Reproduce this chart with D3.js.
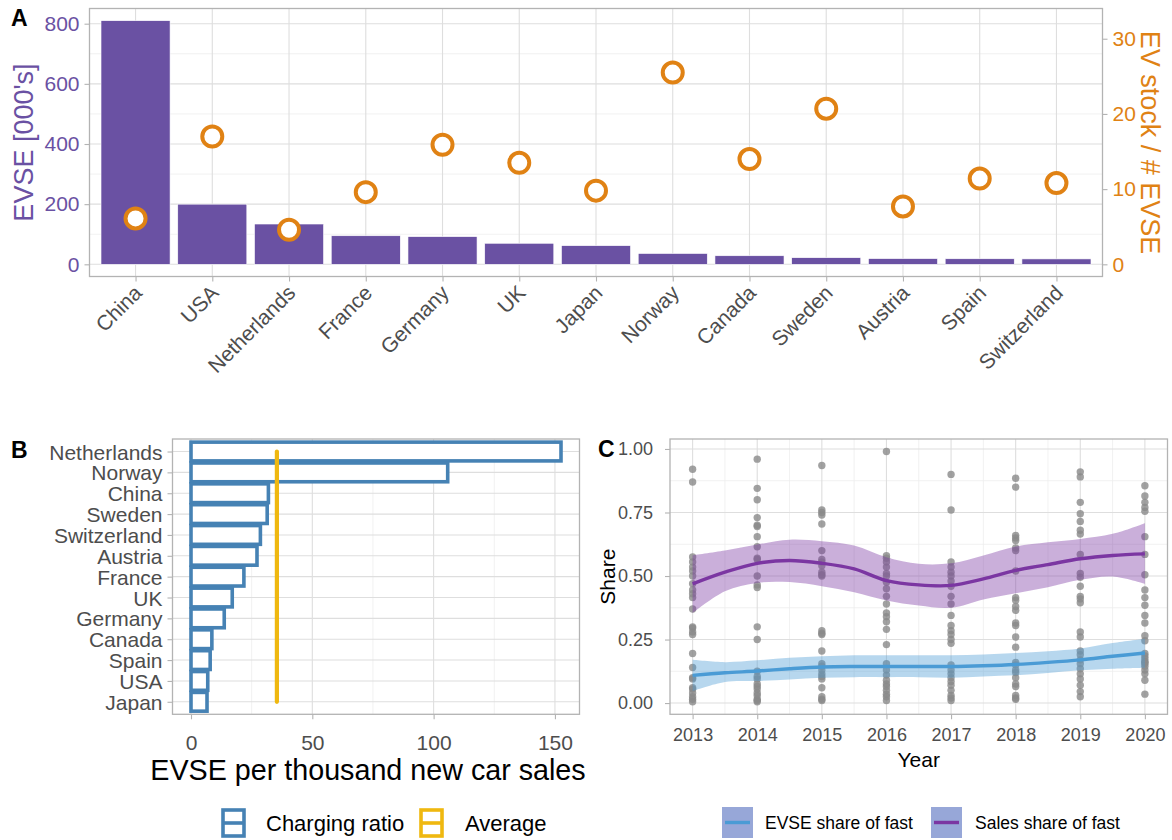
<!DOCTYPE html>
<html>
<head>
<meta charset="utf-8">
<script src="https://cdn.jsdelivr.net/npm/d3@7"></script>
<style>
  html, body { margin: 0; padding: 0; background: #ffffff; }
  svg { display: block; font-family: "Liberation Sans", Arial, Helvetica, sans-serif; }
</style>
</head>
<body>
<svg id="chart" width="1172" height="840"></svg>
<script>
// ---- Panel A: chargers (thousands) and EVs per charger ----
const countriesA = ["China", "USA", "Netherlands", "France", "Germany", "UK", "Japan",
                    "Norway", "Canada", "Sweden", "Austria", "Spain", "Switzerland"];
const evseThousands = [810, 200, 134, 95, 92, 70, 62, 36, 28.5, 22, 19, 18.5, 18];
const evPerCharger = [6.1, 17.0, 4.6, 9.6, 15.9, 13.5, 9.8, 25.5, 14.0, 20.7, 7.7, 11.4, 10.8];
const leftTicksA = [0, 200, 400, 600, 800];
const rightTicksA = [0, 10, 20, 30];
const secAxisFactor = 25;

// ---- Panel B: chargers per thousand new car sales ----
const countriesB = ["Netherlands", "Norway", "China", "Sweden", "Switzerland", "Austria",
                    "France", "UK", "Germany", "Canada", "Spain", "USA", "Japan"];
const chargingRatio = [152.5, 105.8, 31.9, 31.4, 28.6, 27.2, 21.8, 17.0, 13.7, 8.6, 7.9, 6.9, 6.6];
const averageRatio = 35.4;
const ticksB = [0, 50, 100, 150];

// ---- Panel C: share of fast chargers / fast-charging car sales ----
const years = [2013, 2014, 2015, 2016, 2017, 2018, 2019, 2020];
const shares2013 = [0.92, 0.87, 0.575, 0.555, 0.535, 0.52, 0.50, 0.47, 0.445, 0.43, 0.415, 0.37, 0.30,
                    0.295, 0.28, 0.27, 0.195, 0.14, 0.10, 0.095, 0.06, 0.055, 0.04, 0.025, 0.015, 0.005];
const shares2014 = [0.96, 0.845, 0.80, 0.73, 0.70, 0.695, 0.655, 0.615, 0.57, 0.565, 0.50, 0.465, 0.455,
                    0.30, 0.25, 0.125, 0.105, 0.095, 0.075, 0.065, 0.055, 0.04, 0.03, 0.015, 0.01, 0.005];
const shares2015 = [0.935, 0.76, 0.75, 0.74, 0.705, 0.60, 0.565, 0.555, 0.54, 0.515, 0.505, 0.50, 0.285,
                    0.275, 0.27, 0.205, 0.155, 0.145, 0.13, 0.115, 0.105, 0.095, 0.06, 0.025, 0.015, 0.01];
const shares2016 = [0.99, 0.58, 0.57, 0.555, 0.535, 0.51, 0.50, 0.475, 0.45, 0.42, 0.39, 0.355, 0.34,
                    0.32, 0.29, 0.23, 0.155, 0.13, 0.11, 0.09, 0.075, 0.065, 0.05, 0.035, 0.025, 0.01];
const shares2017 = [0.90, 0.76, 0.555, 0.535, 0.515, 0.50, 0.48, 0.46, 0.42, 0.39, 0.345, 0.305, 0.285,
                    0.27, 0.25, 0.235, 0.15, 0.13, 0.115, 0.10, 0.085, 0.07, 0.05, 0.03, 0.02, 0.01];
const shares2018 = [0.885, 0.85, 0.66, 0.65, 0.64, 0.61, 0.60, 0.52, 0.415, 0.405, 0.38, 0.365, 0.315,
                    0.305, 0.26, 0.22, 0.16, 0.15, 0.13, 0.12, 0.10, 0.075, 0.065, 0.03, 0.02, 0.015];
const shares2019 = [0.91, 0.89, 0.79, 0.745, 0.715, 0.68, 0.665, 0.585, 0.51, 0.495, 0.46, 0.42, 0.41,
                    0.395, 0.28, 0.26, 0.205, 0.19, 0.17, 0.155, 0.135, 0.115, 0.095, 0.07, 0.045, 0.025];
const shares2020 = [0.855, 0.815, 0.79, 0.77, 0.755, 0.655, 0.585, 0.505, 0.445, 0.415, 0.385, 0.345, 0.315,
                    0.265, 0.245, 0.195, 0.185, 0.175, 0.165, 0.16, 0.155, 0.145, 0.13, 0.115, 0.09, 0.035];
const sharesByYear = [shares2013, shares2014, shares2015, shares2016, shares2017, shares2018, shares2019, shares2020];

// smoothed trends with confidence band, sampled every half year
const fitYears = [2013, 2013.5, 2014, 2014.5, 2015, 2015.5, 2016, 2016.5, 2017, 2017.5, 2018, 2018.5, 2019, 2019.5, 2020];
const salesFit = [0.469, 0.515, 0.550, 0.561, 0.550, 0.528, 0.482, 0.465, 0.463, 0.489, 0.522, 0.545, 0.568, 0.581, 0.587];
const salesLow = [0.354, 0.440, 0.473, 0.476, 0.460, 0.436, 0.404, 0.384, 0.375, 0.408, 0.432, 0.456, 0.485, 0.498, 0.469];
const salesHigh = [0.581, 0.600, 0.624, 0.643, 0.637, 0.620, 0.574, 0.548, 0.550, 0.581, 0.616, 0.633, 0.646, 0.666, 0.708];
const evseFit = [0.109, 0.119, 0.126, 0.135, 0.142, 0.144, 0.144, 0.144, 0.144, 0.147, 0.152, 0.160, 0.170, 0.184, 0.197];
const evseLow = [0.047, 0.083, 0.087, 0.093, 0.100, 0.102, 0.102, 0.102, 0.100, 0.105, 0.109, 0.118, 0.129, 0.135, 0.139];
const evseHigh = [0.170, 0.161, 0.168, 0.178, 0.184, 0.188, 0.188, 0.188, 0.188, 0.191, 0.197, 0.204, 0.215, 0.236, 0.253];
const ticksCy = [0, 0.25, 0.5, 0.75, 1];

// ---- styling ----
const purpleBar = "#6a51a3";
const orange = "#e08214";
const steel = "#4682b4";
const gold = "#efb810";
const salesColor = "#7b36a2";
const evseColor = "#4a9bd5";
const gridMajor = "#dedede";
const gridMinor = "#eeeeee";
const borderCol = "#b3b3b3";
const tickText = "#4d4d4d";

const svg = d3.select("#chart");

function panelFrame(g, x0, x1, y0, y1) {
  g.append("rect").attr("x", x0).attr("y", y0).attr("width", x1 - x0).attr("height", y1 - y0)
    .attr("fill", "none").attr("stroke", borderCol).attr("stroke-width", 1.3);
}
function hLines(g, ys, x0, x1, col, w) {
  g.selectAll(null).data(ys).enter().append("line")
    .attr("x1", x0).attr("x2", x1).attr("y1", d => d).attr("y2", d => d)
    .attr("stroke", col).attr("stroke-width", w);
}
function vLines(g, xs, y0, y1, col, w) {
  g.selectAll(null).data(xs).enter().append("line")
    .attr("y1", y0).attr("y2", y1).attr("x1", d => d).attr("x2", d => d)
    .attr("stroke", col).attr("stroke-width", w);
}
function styleAxis(axisG, color, size) {
  axisG.select(".domain").remove();
  axisG.selectAll(".tick line").attr("stroke", borderCol).attr("stroke-width", 1.1);
  axisG.selectAll(".tick text").attr("fill", color).style("font-size", size + "px")
    .style("font-family", "Liberation Sans, Arial, sans-serif");
}

// ================= Panel A =================
(function () {
  const L = 89.5, R = 1102.5, T = 8.5, B = 276.5;
  const g = svg.append("g");
  const x = d3.scalePoint().domain(countriesA).range([L, R]).padding(0.6);
  const step = x.step();
  const maxV = d3.max(evseThousands);
  const y = d3.scaleLinear().domain([-0.05 * maxV, 1.05 * maxV]).range([B, T]);
  const y2 = d3.scaleLinear().domain(y.domain().map(v => v / secAxisFactor)).range([B, T]);

  hLines(g, [100, 300, 500, 700].map(y), L, R, gridMinor, 0.8);
  hLines(g, leftTicksA.map(y), L, R, gridMajor, 1.1);
  vLines(g, countriesA.map(x), T, B, gridMajor, 1.1);

  g.selectAll(".bar").data(countriesA).enter().append("rect")
    .attr("x", d => x(d) - step * 0.45)
    .attr("width", step * 0.9)
    .attr("y", (d, i) => y(evseThousands[i]))
    .attr("height", (d, i) => y(0) - y(evseThousands[i]))
    .attr("fill", purpleBar).attr("stroke", "#ffffff").attr("stroke-width", 0.6);

  g.selectAll(".pt").data(countriesA).enter().append("circle")
    .attr("cx", d => x(d))
    .attr("cy", (d, i) => y(evPerCharger[i] * secAxisFactor))
    .attr("r", 10)
    .attr("fill", "#ffffff").attr("stroke", orange).attr("stroke-width", 4);

  panelFrame(g, L, R, T, B);

  const ax = g.append("g").attr("transform", `translate(${L},0)`)
    .call(d3.axisLeft(y).tickValues(leftTicksA).tickSize(5).tickPadding(5));
  styleAxis(ax, purpleBar, 21);

  const ax2 = g.append("g").attr("transform", `translate(${R},0)`)
    .call(d3.axisRight(y2).tickValues(rightTicksA).tickSize(5).tickPadding(5));
  styleAxis(ax2, orange, 21);

  const axb = g.append("g").attr("transform", `translate(0,${B})`)
    .call(d3.axisBottom(x).tickSize(5).tickFormat(""));
  styleAxis(axb, tickText, 19);

  g.selectAll(".xlab").data(countriesA).enter().append("text")
    .attr("transform", d => `translate(${x(d) - 3},${B + 7}) rotate(-45)`)
    .attr("text-anchor", "end").attr("dy", "0.72em")
    .attr("fill", tickText).style("font-size", "21px")
    .text(d => d);

  g.append("text").attr("transform", `translate(33,${(T + B) / 2}) rotate(-90)`)
    .attr("text-anchor", "middle").attr("fill", purpleBar).style("font-size", "27px")
    .text("EVSE [000's]");
  g.append("text").attr("transform", `translate(1141,${(T + B) / 2}) rotate(90)`)
    .attr("text-anchor", "middle").attr("fill", orange).style("font-size", "27px")
    .text("EV stock / # EVSE");

  svg.append("text").attr("x", 11).attr("y", 26).style("font-size", "23px")
    .style("font-weight", "bold").attr("fill", "#000").text("A");
})();

// ================= Panel B =================
(function () {
  const L = 172.5, R = 579.5, T = 439, B = 714.3;
  const g = svg.append("g");
  const maxV = d3.max(chargingRatio);
  const x = d3.scaleLinear().domain([-0.05 * maxV, 1.05 * maxV]).range([L, R]);
  const y = d3.scalePoint().domain(countriesB).range([T, B]).padding(0.6);
  const step = y.step();

  vLines(g, [25, 75, 125].map(x), T, B, gridMinor, 0.8);
  vLines(g, ticksB.map(x), T, B, gridMajor, 1.1);
  hLines(g, countriesB.map(y), L, R, gridMajor, 1.1);

  g.selectAll(".bar").data(countriesB).enter().append("rect")
    .attr("x", x(0))
    .attr("y", d => y(d) - step * 0.45)
    .attr("width", (d, i) => x(chargingRatio[i]) - x(0))
    .attr("height", step * 0.9)
    .attr("fill", "#ffffff").attr("stroke", steel).attr("stroke-width", 3.6);

  g.append("line")
    .attr("x1", x(averageRatio)).attr("x2", x(averageRatio))
    .attr("y1", y(countriesB[0])).attr("y2", y(countriesB[countriesB.length - 1]))
    .attr("stroke", gold).attr("stroke-width", 4.2).attr("stroke-linecap", "round");

  panelFrame(g, L, R, T, B);

  const ay = g.append("g").attr("transform", `translate(${L},0)`)
    .call(d3.axisLeft(y).tickSize(5).tickPadding(5));
  styleAxis(ay, tickText, 21);
  ay.selectAll(".tick text").attr("dy", "0.36em");

  const axb = g.append("g").attr("transform", `translate(0,${B})`)
    .call(d3.axisBottom(x).tickValues(ticksB).tickSize(5).tickPadding(16));
  styleAxis(axb, tickText, 21);

  g.append("text").attr("x", 368).attr("y", 780).attr("text-anchor", "middle")
    .attr("fill", "#000").style("font-size", "28.7px").text("EVSE per thousand new car sales");

  svg.append("text").attr("x", 11).attr("y", 458).style("font-size", "23px")
    .style("font-weight", "bold").attr("fill", "#000").text("B");

  // legend
  const lg = svg.append("g");
  const keys = [{ label: "Charging ratio", col: steel, kx: 223, tx: 266 },
                { label: "Average", col: gold, kx: 421, tx: 465 }];
  keys.forEach(k => {
    lg.append("rect").attr("x", k.kx).attr("y", 810).attr("width", 21).attr("height", 26)
      .attr("fill", "#fff").attr("stroke", k.col).attr("stroke-width", 3.6);
    lg.append("line").attr("x1", k.kx).attr("x2", k.kx + 21).attr("y1", 823).attr("y2", 823)
      .attr("stroke", k.col).attr("stroke-width", 3.6);
    lg.append("text").attr("x", k.tx).attr("y", 831).style("font-size", "22px")
      .attr("fill", "#000").text(k.label);
  });
})();

// ================= Panel C =================
(function () {
  const L = 670, R = 1167.5, T = 439, B = 714.3;
  const g = svg.append("g");
  const xr = d3.extent(years), xs = xr[1] - xr[0];
  const x = d3.scaleLinear().domain([xr[0] - 0.05 * xs, xr[1] + 0.05 * xs]).range([L, R]);
  const all = sharesByYear.flat();
  const yr = d3.extent(all), ys = yr[1] - yr[0];
  const y = d3.scaleLinear().domain([yr[0] - 0.05 * ys, yr[1] + 0.05 * ys]).range([B, T]);

  vLines(g, years.slice(0, -1).map(d => x(d + 0.5)), T, B, gridMinor, 0.8);
  hLines(g, [0.125, 0.375, 0.625, 0.875].map(y), L, R, gridMinor, 0.8);
  vLines(g, years.map(x), T, B, gridMajor, 1.1);
  hLines(g, ticksCy.map(y), L, R, gridMajor, 1.1);

  const pts = [];
  years.forEach((yrv, i) => sharesByYear[i].forEach(v => pts.push([yrv, v])));
  g.selectAll(".pt").data(pts).enter().append("circle")
    .attr("cx", d => x(d[0])).attr("cy", d => y(d[1])).attr("r", 3.7)
    .attr("fill", "#8a8a8a").attr("fill-opacity", 0.8);

  const series = [
    { fit: evseFit, lo: evseLow, hi: evseHigh, col: evseColor },
    { fit: salesFit, lo: salesLow, hi: salesHigh, col: salesColor }
  ];
  const curve = d3.curveCatmullRom.alpha(0.5);
  series.forEach(s => {
    const area = d3.area().curve(curve)
      .x((d, i) => x(fitYears[i])).y0((d, i) => y(s.lo[i])).y1((d, i) => y(s.hi[i]));
    g.append("path").datum(s.fit).attr("d", area).attr("fill", s.col).attr("fill-opacity", 0.4);
  });
  series.forEach(s => {
    const line = d3.line().curve(curve).x((d, i) => x(fitYears[i])).y(d => y(d));
    g.append("path").datum(s.fit).attr("d", line).attr("fill", "none")
      .attr("stroke", s.col).attr("stroke-width", 3.4);
  });

  panelFrame(g, L, R, T, B);

  const ay = g.append("g").attr("transform", `translate(${L},0)`)
    .call(d3.axisLeft(y).tickValues(ticksCy).tickFormat(d3.format(".2f")).tickSize(5).tickPadding(12));
  styleAxis(ay, tickText, 18);
  const axb = g.append("g").attr("transform", `translate(0,${B})`)
    .call(d3.axisBottom(x).tickValues(years).tickFormat(d3.format("d")).tickSize(5).tickPadding(9));
  styleAxis(axb, tickText, 18);

  g.append("text").attr("transform", `translate(615,${(T + B) / 2}) rotate(-90)`)
    .attr("text-anchor", "middle").attr("fill", "#000").style("font-size", "21px").text("Share");
  g.append("text").attr("x", (L + R) / 2).attr("y", 767).attr("text-anchor", "middle")
    .attr("fill", "#000").style("font-size", "21px").text("Year");

  svg.append("text").attr("x", 598).attr("y", 457).style("font-size", "23px")
    .style("font-weight", "bold").attr("fill", "#000").text("C");

  // legend
  const lg = svg.append("g");
  const keys = [{ label: "EVSE share of fast", col: evseColor, kx: 722, tx: 765 },
                { label: "Sales share of fast", col: salesColor, kx: 931, tx: 975 }];
  keys.forEach(k => {
    lg.append("rect").attr("x", k.kx).attr("y", 807).attr("width", 31).attr("height", 31)
      .attr("fill", salesColor).attr("fill-opacity", 0.4);
    lg.append("rect").attr("x", k.kx).attr("y", 807).attr("width", 31).attr("height", 31)
      .attr("fill", evseColor).attr("fill-opacity", 0.4);
    lg.append("line").attr("x1", k.kx + 3).attr("x2", k.kx + 28).attr("y1", 822.5).attr("y2", 822.5)
      .attr("stroke", k.col).attr("stroke-width", 3.4);
    lg.append("text").attr("x", k.tx).attr("y", 829).style("font-size", "17.5px")
      .attr("fill", "#000").text(k.label);
  });
})();
</script>
</body>
</html>
